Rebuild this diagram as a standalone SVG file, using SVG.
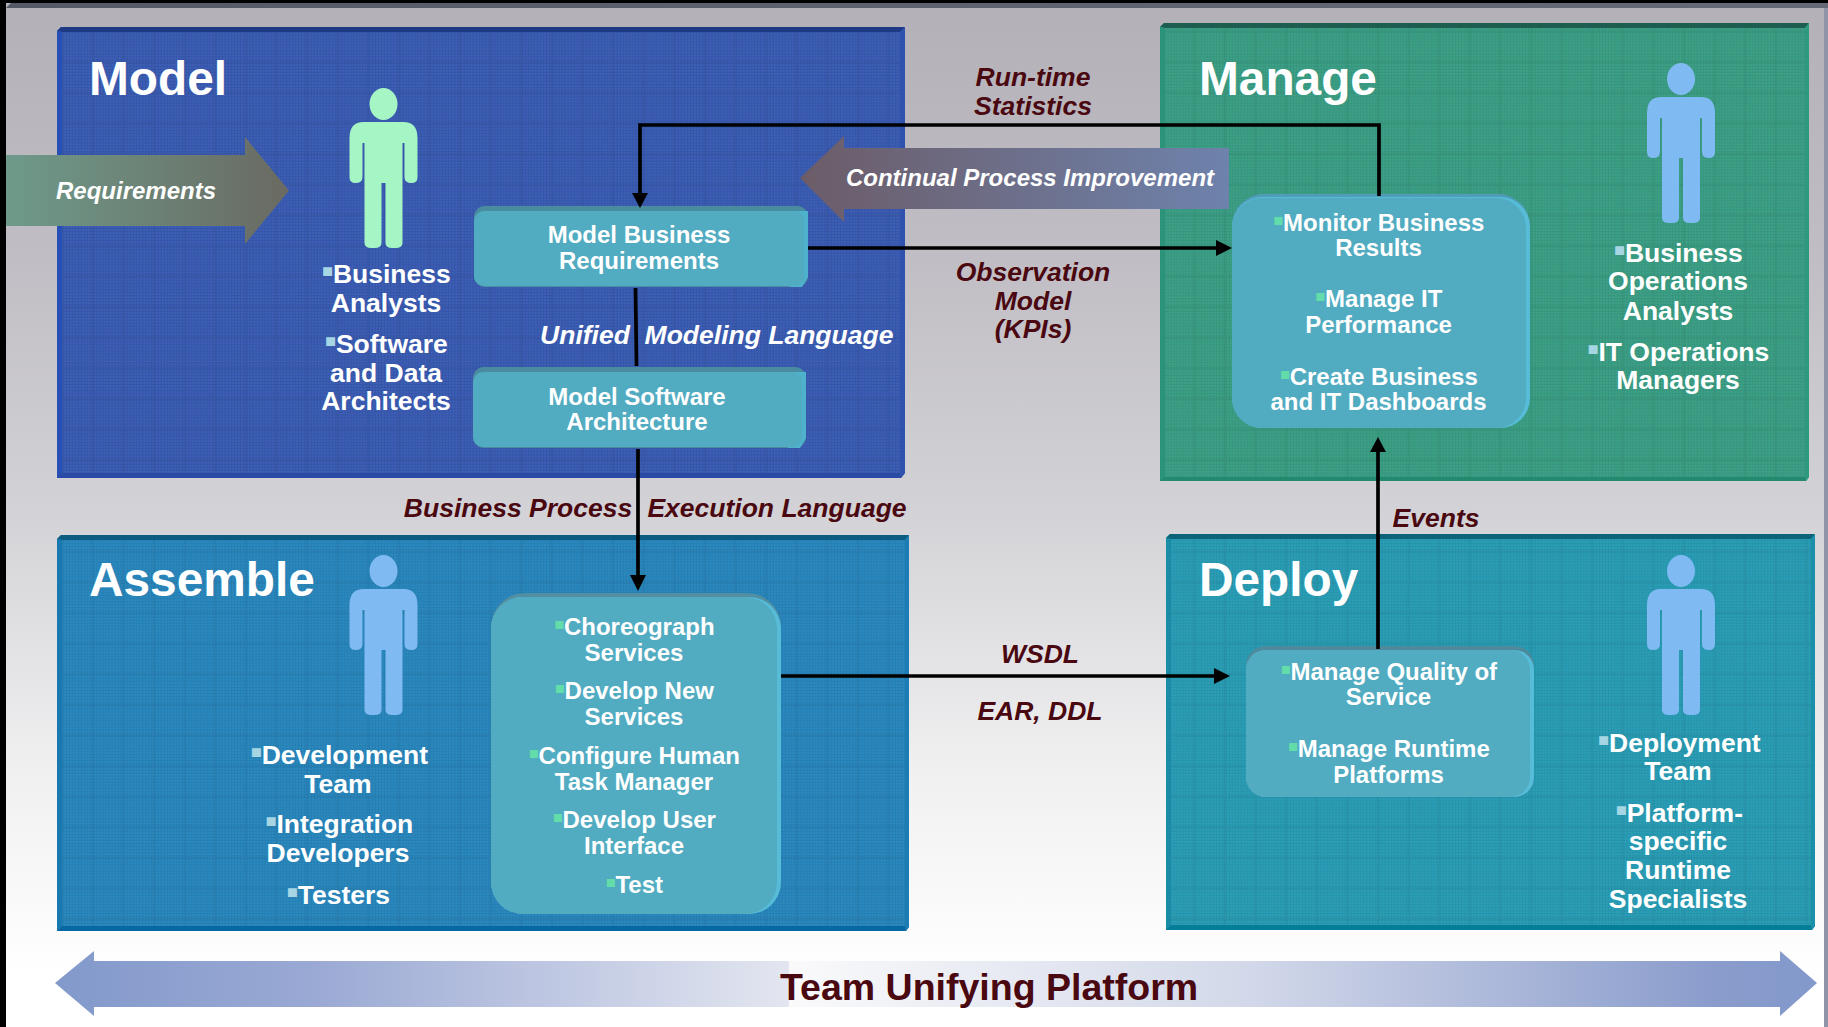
<svg xmlns="http://www.w3.org/2000/svg" width="1828" height="1027" viewBox="0 0 1828 1027">
<style>
text{font-family:"Liberation Sans",Arial,Helvetica,sans-serif;font-weight:bold;fill:#fff;text-anchor:middle}
.title{font-size:47.800px;text-anchor:start}
.lab{font-size:26.500px}
.box{font-size:24px}
.it{font-style:italic;font-size:26.500px;fill:#fff}
.red{font-style:italic;font-size:26.500px;fill:#4a0810}
.arr{font-style:italic;font-size:24px}
.team{font-size:37.500px;fill:#4a0810;text-anchor:start}
.b1{fill:#a6d6e4;font-size:1.35em;letter-spacing:-1px}
.b2{fill:#62dca8;font-size:1.35em;letter-spacing:-1px}
.conn{fill:none;stroke:#000;stroke-width:3.700}
.tile{fill:#51abc1}
.grid{fill:url(#tex)}
</style>
<defs>
<linearGradient id="bg" x1="0" y1="0" x2="0" y2="1"><stop offset="0" stop-color="#b3b0b7"/><stop offset="0.25" stop-color="#c0bec4"/><stop offset="0.5" stop-color="#d3d2d6"/><stop offset="0.75" stop-color="#f0f0f1"/><stop offset="0.95" stop-color="#fff"/></linearGradient>
<linearGradient id="req" x1="0" y1="0" x2="1" y2="0"><stop offset="0" stop-color="#6e9a8a"/><stop offset="1" stop-color="#6a6a62"/></linearGradient>
<linearGradient id="cpi" x1="0" y1="0" x2="1" y2="0"><stop offset="0" stop-color="#6c5c68"/><stop offset="1" stop-color="#6e82ac"/></linearGradient>
<linearGradient id="tl" gradientUnits="userSpaceOnUse" x1="55" y1="0" x2="789" y2="0"><stop offset="0" stop-color="#8299cb"/><stop offset="0.35" stop-color="#9aa9d4"/><stop offset="1" stop-color="#e3e6f0"/></linearGradient>
<linearGradient id="tr" gradientUnits="userSpaceOnUse" x1="789" y1="0" x2="1817" y2="0"><stop offset="0" stop-color="#fafafb"/><stop offset="0.45" stop-color="#d2d8e9"/><stop offset="0.9" stop-color="#8a9ccc"/><stop offset="1" stop-color="#8299cb"/></linearGradient>
<linearGradient id="top" x1="0" y1="0" x2="1" y2="0"><stop offset="0" stop-color="#555a68"/><stop offset="1" stop-color="#666a78"/></linearGradient>
<pattern id="dots" width="3" height="3" patternUnits="userSpaceOnUse"><rect width="1.500" height="1.500" fill="#fff" fill-opacity=".07"/><rect x="1.500" y="1.500" width="1.500" height="1.500" fill="#000" fill-opacity=".04"/></pattern>
<pattern id="tex" width="30.600" height="30.600" patternUnits="userSpaceOnUse"><rect width="30.600" height="30.600" fill="url(#dots)"/><path d="M0 .7H30.600M.7 0V30.600" stroke="#000" stroke-opacity=".07" stroke-width="1.400" fill="none"/></pattern>
<symbol id="person" viewBox="-35 0 70 161" width="70" height="161" overflow="visible">
<ellipse cx="0" cy="16" rx="14" ry="16"/>
<path d="M-20 34H20Q34 34 34 50V89Q34 95 28 95Q21 95 21 89V55H19V155Q19 160 12 160H9Q2 160 2 155V95H-2V155Q-2 160 -9 160H-12Q-19 160 -19 155V55H-21V89Q-21 95 -28 95Q-34 95 -34 89V50Q-34 34 -20 34Z"/>
</symbol>
</defs>

<rect width="1828" height="1027" fill="url(#bg)"/>
<g id="frame">
<rect x="0" y="0" width="1828" height="3" fill="#000"/>
<path d="M6 8L11 3H1828V8Z" fill="url(#top)"/>
<rect x="0" y="0" width="6" height="1027" fill="#000"/>
<rect x="1824" y="8" width="4" height="1019" fill="#8f94a8"/>
</g>

<g id="model">
<path d="M57 478V31L61 27H905V473L901 478Z" fill="#3557ae"/>
<rect x="62" y="32" width="838" height="441" class="grid"/>
<path d="M57 31L61 27H905L900 32H62Z" fill="#1e3a85"/>
<path d="M57 31L62 32V473L57 478Z" fill="#2650b5"/>
<path d="M57 478L62 473H900L901 478Z" fill="#2a4aa6"/>
<path d="M905 27V473L901 478L900 473V32Z" fill="#2f52ae"/>
<text class="title" x="89" y="95">Model</text>
<use href="#person" x="348.500" y="88" fill="#a6f5c4"/>
<g class="lab">
<text x="386" y="283"><tspan class="b1">▪</tspan>Business</text>
<text x="386" y="312">Analysts</text>
<text x="386" y="353"><tspan class="b1">▪</tspan>Software</text>
<text x="386" y="382">and Data</text>
<text x="386" y="410">Architects</text>
</g>
</g>

<g id="manage">
<path d="M1160 481V27L1164 23H1809V477L1806 481Z" fill="#369a80"/>
<rect x="1165" y="28" width="640" height="449" class="grid"/>
<path d="M1160 27L1164 23H1809L1805 28H1165Z" fill="#1d5e50"/>
<path d="M1160 27L1165 28V477L1160 481Z" fill="#2a937a"/>
<path d="M1160 481L1165 477H1805L1806 481Z" fill="#238a70"/>
<path d="M1809 23V477L1806 481L1805 477V28Z" fill="#2d9a80"/>
<text class="title" x="1199" y="95">Manage</text>
<use href="#person" x="1646" y="63" fill="#80baf2"/>
<g class="lab">
<text x="1678" y="262"><tspan class="b1">▪</tspan>Business</text>
<text x="1678" y="290">Operations</text>
<text x="1678" y="320">Analysts</text>
<text x="1678" y="361"><tspan class="b1">▪</tspan>IT Operations</text>
<text x="1678" y="389">Managers</text>
</g>
</g>

<g id="assemble">
<path d="M57 931V539L61 535H909V927L906 931Z" fill="#2482b8"/>
<rect x="62" y="540" width="843" height="386" class="grid"/>
<path d="M57 539L61 535H909L905 540H62Z" fill="#0b5c80"/>
<path d="M57 539L62 540V926L57 931Z" fill="#1878b0"/>
<path d="M57 931L62 926H905L906 931Z" fill="#0868a4"/>
<path d="M909 535V927L906 931L905 926V540Z" fill="#1c7cb4"/>
<text class="title" x="89" y="596">Assemble</text>
<use href="#person" x="348.500" y="555" fill="#80baf2"/>
<g class="lab">
<text x="339" y="764"><tspan class="b1">▪</tspan>Development</text>
<text x="338" y="793">Team</text>
<text x="339" y="833"><tspan class="b1">▪</tspan>Integration</text>
<text x="338" y="862">Developers</text>
<text x="338" y="904"><tspan class="b1">▪</tspan>Testers</text>
</g>
</g>

<g id="deploy">
<path d="M1166 930V538L1170 534H1815V926L1812 930Z" fill="#2498b0"/>
<rect x="1171" y="539" width="640" height="386" class="grid"/>
<path d="M1166 538L1170 534H1815L1811 539H1171Z" fill="#0d6478"/>
<path d="M1166 538L1171 539V925L1166 930Z" fill="#1a8ca6"/>
<path d="M1166 930L1171 925H1811L1812 930Z" fill="#047e98"/>
<path d="M1815 534V926L1812 930L1811 925V539Z" fill="#1c90a8"/>
<text class="title" x="1199" y="596">Deploy</text>
<use href="#person" x="1646" y="555" fill="#80baf2"/>
<g class="lab">
<text x="1679" y="752"><tspan class="b1">▪</tspan>Deployment</text>
<text x="1678" y="780">Team</text>
<text x="1679" y="822"><tspan class="b1">▪</tspan>Platform-</text>
<text x="1678" y="850">specific</text>
<text x="1678" y="879">Runtime</text>
<text x="1678" y="908">Specialists</text>
</g>
</g>

<g id="requirements">
<path d="M6 155H245V137L289 190.500L245 244V226H6Z" fill="url(#req)"/>
<text class="arr" x="136" y="199">Requirements</text>
</g>
<g id="continual-process-improvement">
<path d="M1229 148V209H844V222L800 178L844 136V148Z" fill="url(#cpi)"/>
<text class="arr" x="1030" y="186">Continual Process Improvement</text>
</g>
<g id="team-unifying-platform">
<path d="M789 961V1007H94V1016L55 983L94 951V961Z" fill="url(#tl)"/>
<path d="M789 961H1780V951L1817 983L1780 1016V1007H789Z" fill="url(#tr)"/>
<text class="team" x="780" y="1000">Team Unifying Platform</text>
</g>

<g id="model-business-requirements">
<rect x="474" y="206" width="334" height="81" rx="11" fill="#4a8c9f"/>
<path d="M794 211H808V277L802 287H790Z" fill="#4fb2cd"/>
<rect x="474" y="211" width="330" height="75" rx="10" class="tile"/>
<g class="box"><text x="639" y="243">Model Business</text><text x="639" y="269">Requirements</text></g>
</g>
<g id="model-software-architecture">
<rect x="473" y="367" width="333" height="81" rx="11" fill="#4a8c9f"/>
<path d="M792 372H806V438L800 448H788Z" fill="#4fb2cd"/>
<rect x="473" y="372" width="329" height="75" rx="10" class="tile"/>
<g class="box"><text x="637" y="405">Model Software</text><text x="637" y="430">Architecture</text></g>
</g>
<g id="assemble-services">
<rect x="491" y="593" width="290" height="321" rx="34" fill="#538fa2"/>
<rect x="491" y="597" width="290" height="317" rx="32" fill="#56bcd8"/>
<rect x="491" y="597" width="286" height="317" rx="32" class="tile"/>
<g class="box">
<text x="634" y="635"><tspan class="b2">▪</tspan>Choreograph</text>
<text x="634" y="661">Services</text>
<text x="634" y="699"><tspan class="b2">▪</tspan>Develop New</text>
<text x="634" y="725">Services</text>
<text x="634" y="764"><tspan class="b2">▪</tspan>Configure Human</text>
<text x="634" y="790">Task Manager</text>
<text x="634" y="828"><tspan class="b2">▪</tspan>Develop User</text>
<text x="634" y="854">Interface</text>
<text x="634" y="893"><tspan class="b2">▪</tspan>Test</text>
</g>
</g>
<g id="manage-services">
<rect x="1232" y="194" width="298" height="234" rx="32" fill="#4f9db8"/>
<rect x="1232" y="197" width="298" height="231" rx="30" fill="#56bcd8"/>
<rect x="1232" y="198" width="294" height="230" rx="30" class="tile"/>
<g class="box">
<text x="1378.500" y="231"><tspan class="b2">▪</tspan>Monitor Business</text>
<text x="1378.500" y="256">Results</text>
<text x="1378.500" y="307"><tspan class="b2">▪</tspan>Manage IT</text>
<text x="1378.500" y="333">Performance</text>
<text x="1378.500" y="385"><tspan class="b2">▪</tspan>Create Business</text>
<text x="1378.500" y="410">and IT Dashboards</text>
</g>
</g>
<g id="deploy-services">
<rect x="1246" y="646" width="288" height="151" rx="20" fill="#4f8a9c"/>
<rect x="1246" y="650" width="288" height="147" rx="20" fill="#56bcd8"/>
<rect x="1246" y="650" width="284" height="147" rx="20" class="tile"/>
<g class="box">
<text x="1388.500" y="680"><tspan class="b2">▪</tspan>Manage Quality of</text>
<text x="1388.500" y="705">Service</text>
<text x="1388.500" y="757"><tspan class="b2">▪</tspan>Manage Runtime</text>
<text x="1388.500" y="783">Platforms</text>
</g>
</g>

<g id="connectors">
<path class="conn" d="M1379 196V125H640V195"/>
<path d="M632 193H648L640 208Z"/>
<path class="conn" d="M808 248H1218"/>
<path d="M1216 240L1232 248L1216 256Z"/>
<path class="conn" d="M635.500 288L636.500 366"/>
<path class="conn" d="M638 449V577"/>
<path d="M630 575H646L638 591Z"/>
<path class="conn" d="M781 676H1216"/>
<path d="M1214 668L1230 676L1214 684Z"/>
<path class="conn" d="M1378 649V450"/>
<path d="M1370 452H1386L1378 437Z"/>
</g>

<g id="connector-labels">
<text class="it" x="585" y="344">Unified</text>
<text class="it" x="769" y="344">Modeling Language</text>
<text class="red" x="518" y="517">Business Process</text>
<text class="red" x="777" y="517">Execution Language</text>
<text class="red" x="1033" y="86">Run-time</text>
<text class="red" x="1033" y="115">Statistics</text>
<text class="red" x="1033" y="281">Observation</text>
<text class="red" x="1033" y="310">Model</text>
<text class="red" x="1033" y="338">(KPIs)</text>
<text class="red" x="1436" y="527">Events</text>
<text class="red" x="1040" y="663">WSDL</text>
<text class="red" x="1040" y="720">EAR, DDL</text>
</g>
</svg>
